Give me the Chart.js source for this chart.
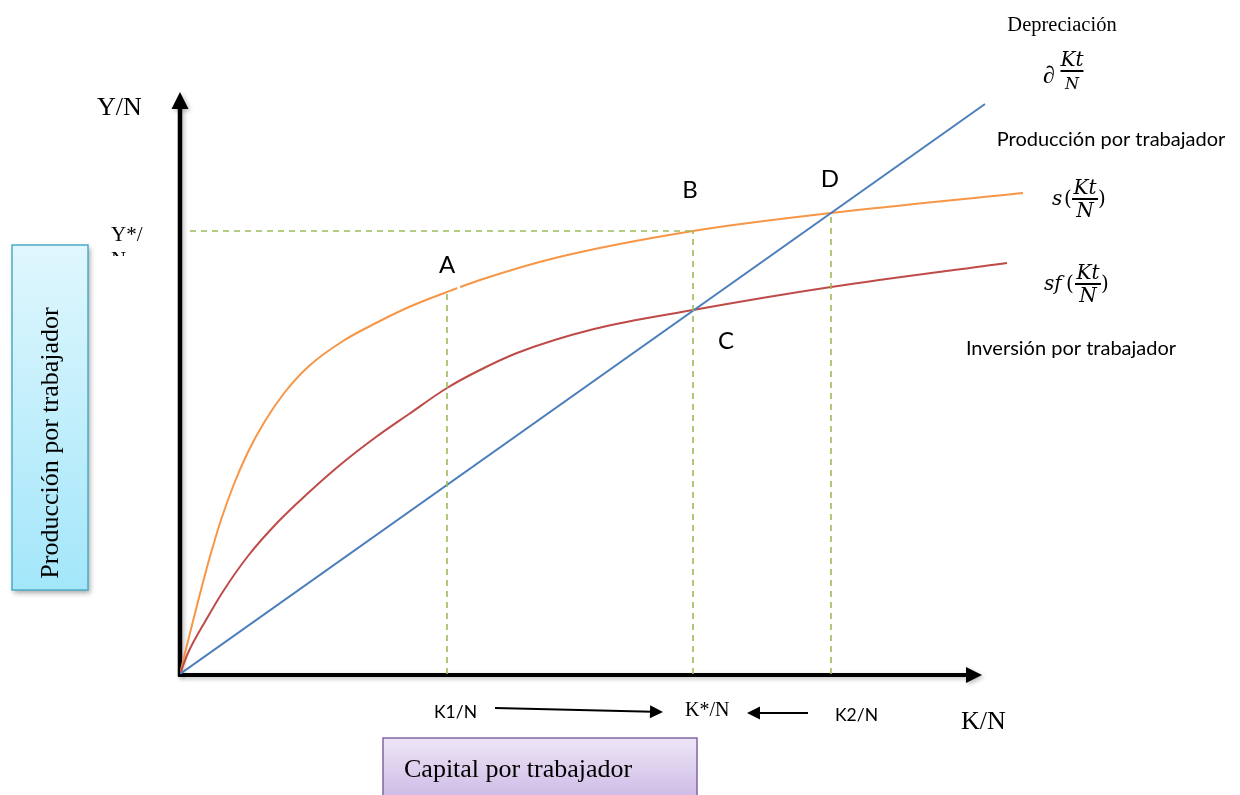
<!DOCTYPE html>
<html>
<head>
<meta charset="utf-8">
<script src="https://cdn.jsdelivr.net/npm/chart.js@4.4.1/dist/chart.umd.min.js"></script>
<style>
  html, body { margin: 0; padding: 0; background: #fff; }
  #wrap { position: relative; width: 1240px; height: 795px; }
</style>
</head>
<body>
<div id="wrap"><canvas id="solow"></canvas></div>
<script>
// curves (x = K/N, y = output units)
const kProd = [0, 0.45, 1.3, 2.2, 3.1, 4.1, 5.4, 6.8, 8.5, 10.5, 12.9, 16.3, 19.6, 22.9, 26.7, 30.0, 37.5, 51.3, 65.1, 84.3];
const yProd = [0, 1.9, 5.3, 8.8, 12.1, 15.4, 19.0, 22.2, 25.3, 28.2, 30.8, 33.3, 35.1, 36.7, 38.2, 39.4, 41.6, 44.3, 46.1, 48.1];

const kInv = [0, 0.8, 2.6, 4.4, 6.8, 9.6, 12.6, 16.0, 19.6, 22.9, 26.7, 29.6, 33.7, 41.4, 51.3, 65.1, 82.7];
const yInv = [0, 2.1, 5.4, 8.4, 11.8, 15.0, 17.9, 20.9, 23.7, 26.0, 28.6, 30.2, 32.1, 34.5, 36.4, 38.7, 41.1];

const kDep = [0, 80.5];
const yDep = [0, 57.0];

// guide positions
const kA = 26.7, kStar = 51.3, k2 = 65.1;
const yA = 38.2, yStar = 44.3, yD = 46.1;

function pts(xs, ys) {
  return xs.map((x, i) => ({ x: x, y: ys[i] }));
}

var green = '#9bbb59';
function guide(data) {
  return { data: data, showLine: true, borderColor: green, borderWidth: 1.6, borderDash: [6, 5], pointRadius: 0, fill: false };
}

function arrow(ctx, x1, y1, x2, y2, w, head) {
  var a = Math.atan2(y2 - y1, x2 - x1);
  ctx.beginPath();
  ctx.moveTo(x1, y1);
  ctx.lineTo(x2 - Math.cos(a) * head * 0.8, y2 - Math.sin(a) * head * 0.8);
  ctx.lineWidth = w;
  ctx.stroke();
  ctx.beginPath();
  ctx.moveTo(x2, y2);
  ctx.lineTo(x2 - head * Math.cos(a) + head * 0.5 * Math.sin(a), y2 - head * Math.sin(a) - head * 0.5 * Math.cos(a));
  ctx.lineTo(x2 - head * Math.cos(a) - head * 0.5 * Math.sin(a), y2 - head * Math.sin(a) + head * 0.5 * Math.cos(a));
  ctx.closePath();
  ctx.fill();
}

function frac(ctx, cx, y, top, bot, w, font, botFont) {
  ctx.font = font;
  ctx.textAlign = 'center';
  ctx.textBaseline = 'alphabetic';
  ctx.fillText(top, cx, y - 5);
  ctx.fillRect(cx - w / 2, y - 1, w, 2);
  ctx.font = botFont || font;
  ctx.fillText(bot, cx, y + 18);
}

const axesPlugin = {
  id: 'axes',
  beforeDatasetsDraw(chart) {
    var ctx = chart.ctx;
    var x0 = chart.scales.x.getPixelForValue(0);
    var y0 = chart.scales.y.getPixelForValue(0);
    ctx.save();
    ctx.fillStyle = '#000';
    ctx.strokeStyle = '#000';
    ctx.shadowColor = 'rgba(0,0,0,0.25)';
    ctx.shadowBlur = 4;
    ctx.shadowOffsetX = 2;
    ctx.shadowOffsetY = 2;
    arrow(ctx, x0, y0 + 2, x0, 92, 4.5, 17);
    arrow(ctx, x0 - 2, y0 + 1, 982, y0 + 1, 4, 16);
    ctx.restore();
  },
  afterDraw(chart) {
    var ctx = chart.ctx;
    var sx = chart.scales.x, sy = chart.scales.y;
    ctx.save();

    // little break in the production curve next to A
    ctx.strokeStyle = '#fff';
    ctx.lineWidth = 3;
    ctx.beginPath();
    ctx.moveTo(458, 284);
    ctx.lineTo(460, 294);
    ctx.stroke();

    // left box
    var g = ctx.createLinearGradient(0, 245, 0, 590);
    g.addColorStop(0, '#e0f7fd');
    g.addColorStop(1, '#a3e6fa');
    ctx.save();
    ctx.shadowColor = 'rgba(0,0,0,0.35)';
    ctx.shadowBlur = 5;
    ctx.shadowOffsetX = 2;
    ctx.shadowOffsetY = 3;
    ctx.fillStyle = g;
    ctx.fillRect(12, 245, 76, 345);
    ctx.restore();
    ctx.strokeStyle = '#4bacc6';
    ctx.lineWidth = 1.5;
    ctx.strokeRect(12, 245, 76, 345);
    ctx.save();
    ctx.translate(58, 443);
    ctx.rotate(-Math.PI / 2);
    ctx.fillStyle = '#000';
    ctx.font = '26px "Liberation Serif"';
    ctx.textAlign = 'center';
    ctx.textBaseline = 'alphabetic';
    ctx.fillText('Producción por trabajador', 0, 0);
    ctx.restore();

    // bottom box
    var g2 = ctx.createLinearGradient(0, 738, 0, 800);
    g2.addColorStop(0, '#ede6f6');
    g2.addColorStop(1, '#cdb9e6');
    ctx.fillStyle = g2;
    ctx.fillRect(383, 738, 314, 62);
    ctx.strokeStyle = '#8064a2';
    ctx.lineWidth = 1.5;
    ctx.strokeRect(383, 738, 314, 62);
    ctx.fillStyle = '#000';
    ctx.font = '26px "Liberation Serif"';
    ctx.textAlign = 'left';
    ctx.fillText('Capital por trabajador', 404, 777);

    // axis titles
    ctx.font = '26px "Liberation Serif"';
    ctx.fillText('Y/N', 97, 115);
    ctx.fillText('K/N', 961, 729);

    // Y*/N label, clipped like the reference
    ctx.font = '21px "Liberation Serif"';
    ctx.fillText('Y*/', 111, 241);
    ctx.save();
    ctx.beginPath();
    ctx.rect(100, 249, 70, 7);
    ctx.clip();
    ctx.fillText('N', 111, 266);
    ctx.restore();

    // point letters
    ctx.font = '24px Lato';
    ctx.textAlign = 'center';
    ctx.fillText('A', sx.getPixelForValue(kA), 273);
    ctx.fillText('B', sx.getPixelForValue(kStar) - 3, 198);
    ctx.fillText('D', sx.getPixelForValue(k2) - 1, 187);
    ctx.fillText('C', sx.getPixelForValue(kStar) + 33, 349);

    // right-hand labels
    ctx.font = '20.5px "Liberation Serif"';
    ctx.fillText('Depreciación', 1062, 31);
    ctx.font = '20px Lato';
    ctx.fillText('Producción por trabajador', 1111, 146);
    ctx.fillText('Inversión por trabajador', 1071, 355);

    var mathFont = 'italic 20px "DejaVu Serif"';
    ctx.font = 'italic 24px "Liberation Serif"';
    ctx.textAlign = 'left';
    ctx.fillText('∂', 1043, 83);
    frac(ctx, 1072, 71, 'Kt', 'N', 23, mathFont, 'italic 16px "DejaVu Serif"');

    ctx.font = mathFont;
    ctx.textAlign = 'left';
    ctx.fillText('s', 1052, 205);
    ctx.font = '20px "DejaVu Serif"';
    ctx.fillText('(', 1064, 205);
    frac(ctx, 1085, 199, 'Kt', 'N', 26, mathFont);
    ctx.font = '20px "DejaVu Serif"';
    ctx.textAlign = 'left';
    ctx.fillText(')', 1098, 205);

    ctx.font = mathFont;
    ctx.fillText('sf', 1044, 290);
    ctx.font = '20px "DejaVu Serif"';
    ctx.fillText('(', 1066, 290);
    frac(ctx, 1088, 284, 'Kt', 'N', 26, mathFont);
    ctx.font = '20px "DejaVu Serif"';
    ctx.textAlign = 'left';
    ctx.fillText(')', 1101, 290);

    // bottom K labels and arrows
    ctx.font = '17.5px Lato';
    ctx.textAlign = 'left';
    ctx.fillText('K1/N', 434, 718);
    ctx.fillText('K2/N', 835, 721);
    ctx.font = '20px "Liberation Serif"';
    ctx.fillText('K*/N', 685, 716);
    ctx.fillStyle = '#000';
    ctx.strokeStyle = '#000';
    arrow(ctx, 495, 708, 663, 712, 2, 13);
    arrow(ctx, 808, 713, 747, 713, 2, 13);

    ctx.restore();
  }
};

new Chart(document.getElementById('solow').getContext('2d'), {
  type: 'scatter',
  data: {
    datasets: [
      guide([{ x: 1.0, y: yStar }, { x: kStar, y: yStar }]),
      guide([{ x: kA, y: 0 }, { x: kA, y: yA }]),
      guide([{ x: kStar, y: 0 }, { x: kStar, y: yStar }]),
      guide([{ x: k2, y: 0 }, { x: k2, y: yD }]),
      {
        label: 'Depreciación',
        data: pts(kDep, yDep),
        showLine: true, borderColor: '#4a7ebb', borderWidth: 2, pointRadius: 0
      },
      {
        label: 'Inversión por trabajador',
        data: pts(kInv, yInv),
        showLine: true, borderColor: '#be4b48', borderWidth: 2, pointRadius: 0,
        cubicInterpolationMode: 'monotone'
      },
      {
        label: 'Producción por trabajador',
        data: pts(kProd, yProd),
        showLine: true, borderColor: '#f79646', borderWidth: 2, pointRadius: 0,
        cubicInterpolationMode: 'monotone'
      }
    ]
  },
  options: {
    responsive: true,
    maintainAspectRatio: false,
    animation: false,
    layout: { padding: { left: 180, right: 210, top: 94, bottom: 121 } },
    scales: {
      x: { type: 'linear', min: 0, max: 85, display: false },
      y: { type: 'linear', min: 0, max: 58, display: false }
    },
    plugins: {
      legend: { display: false },
      tooltip: { enabled: false }
    }
  },
  plugins: [axesPlugin]
});
</script>
</body>
</html>
